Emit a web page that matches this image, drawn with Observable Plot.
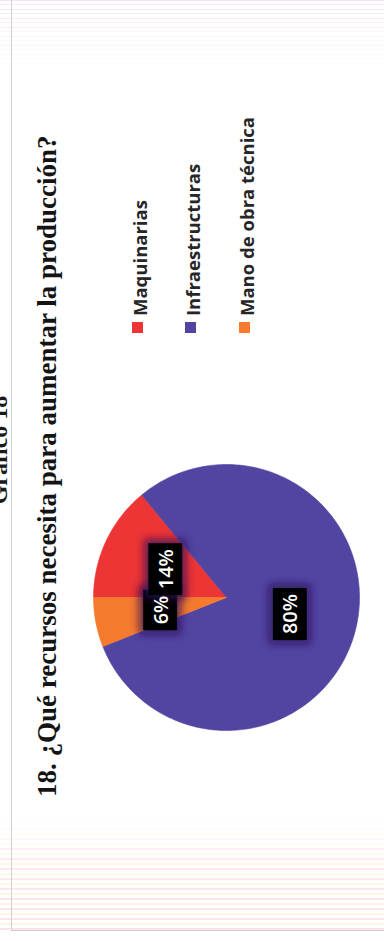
<!DOCTYPE html>
<html>
<head>
<meta charset="utf-8">
<script src="https://cdn.jsdelivr.net/npm/d3@7"></script>
<script src="https://cdn.jsdelivr.net/npm/@observablehq/plot@0.6"></script>
<style>
  html, body { margin: 0; padding: 0; background: #fff; width: 384px; height: 941px; overflow: hidden; }
  #page { position: absolute; left: 0; top: 0; width: 384px; height: 941px; overflow: hidden; background: #fff; }
  #bandTop { position: absolute; left: 0; top: 0; width: 384px; height: 70px;
    background: repeating-linear-gradient(to bottom, rgba(225,185,230,.4) 0 1px, rgba(255,255,255,0) 1px 4px, rgba(240,195,215,.3) 4px 5px, rgba(255,255,255,0) 5px 9px);
    -webkit-mask-image: linear-gradient(to bottom, #000 0%, rgba(0,0,0,.5) 50%, transparent 100%);
    mask-image: linear-gradient(to bottom, #000 0%, rgba(0,0,0,.5) 50%, transparent 100%); }
  #bandBot { position: absolute; left: 0; top: 818px; width: 384px; height: 112px;
    background: repeating-linear-gradient(to bottom, rgba(245,190,205,.45) 0 2px, rgba(255,255,255,0) 2px 5px, rgba(250,232,185,.45) 5px 7px, rgba(255,255,255,0) 7px 10px);
    -webkit-mask-image: linear-gradient(to bottom, transparent 0%, rgba(0,0,0,.7) 40%, #000 100%);
    mask-image: linear-gradient(to bottom, transparent 0%, rgba(0,0,0,.7) 40%, #000 100%); }
  #edge { position: absolute; left: 11px; top: 0; width: 380px; height: 930px;
    border-left: 1px solid #d2d2d2; border-bottom: 1px solid #cfcfcf; }
  #rot { position: absolute; left: 0; top: 0; width: 941px; height: 384px;
    transform-origin: 0 0; transform: translate(0px, 941px) rotate(-90deg); }
  #sup { position: absolute; left: 431px; width: 120px; top: -13px; text-align: center;
    font-family: "Liberation Serif", serif; font-weight: bold; font-size: 24px; line-height: 24px; color: #1a1a1a; white-space: nowrap; }
  #title { position: absolute; left: 144px; top: 34.4px;
    font-family: "Liberation Serif", serif; font-weight: bold; font-size: 27px; line-height: 27px; color: #141414; white-space: nowrap; }
  #chart { position: absolute; left: 0; top: 0; }
  #legend { position: absolute; left: 608px; top: 110.8px; width: 320px; }
  #legend .leg-swatches { font-family: "Open Sans", sans-serif !important; font-size: 18.5px !important; color: #262626; margin: 0 !important; columns: auto !important; }
  #legend, #legend * { font-weight: 700 !important; }
  #legend .leg-swatch { height: 53.33px; padding: 0 !important; margin: 0 !important; display: flex; align-items: center; }
  #legend .leg-swatch > svg { margin-right: 6px !important; }
  #legend .leg-swatch-label { position: relative; top: 2px; overflow: visible !important; }
</style>
</head>
<body>
<div id="page">
  <div id="bandTop"></div>
  <div id="bandBot"></div>
  <div id="edge"></div>
  <div id="rot">
    <div id="sup">Gráfico 18</div>
    <div id="title">18. ¿Qué recursos necesita para aumentar la producción?</div>
    <div id="chart"></div>
    <div id="legend"></div>
  </div>
</div>
<script>
// ---- data ----
const categories = ["Maquinarias", "Infraestructuras", "Mano de obra técnica"];
const values = [14, 80, 6];
const labels = ["14%", "80%", "6%"];
const colors = ["#ee3535", "#5245a2", "#f67a2e"];

// ---- pie geometry from data (start at 12 o'clock, clockwise) ----
const total = d3.sum(values);
const piePts = [];
const labelData = [];
let acc = 0;
categories.forEach((cat, i) => {
  const t0 = acc / total, t1 = (acc + values[i]) / total;
  acc += values[i];
  const n = Math.max(4, Math.ceil((t1 - t0) * 360));
  piePts.push({cat, x: 0, y: 0});
  for (let k = 0; k <= n; k++) {
    const a = 2 * Math.PI * (t0 + (t1 - t0) * k / n);
    piePts.push({cat, x: Math.sin(a), y: Math.cos(a)});
  }
  piePts.push({cat, x: 0, y: 0});
  const am = 2 * Math.PI * (t0 + t1) / 2;
  labelData.push({cat, label: labels[i], x: 0.5 * Math.sin(am), y: 0.5 * Math.cos(am)});
});

const svg = Plot.plot({
  width: 941,
  height: 384,
  margin: 0,
  x: {domain: [-1, 1], range: [210, 476], axis: null},
  y: {domain: [-1, 1], range: [359, 93], axis: null},
  color: {domain: categories, range: colors},
  style: {background: "transparent", overflow: "visible"},
  marks: [
    Plot.line(piePts, {x: "x", y: "y", z: "cat", fill: "cat", stroke: "cat", strokeWidth: 0.6, curve: "linear"}),
    Plot.text(labelData, {x: "x", y: "y", text: "label", fill: "white", fontSize: 20, fontWeight: 600, fontFamily: "Open Sans"})
  ]
});
document.getElementById("chart").appendChild(svg);

// glow filter + black label boxes behind the data labels
const NS = "http://www.w3.org/2000/svg";
const defs = document.createElementNS(NS, "defs");
defs.innerHTML = `<filter id="glow" x="-60%" y="-60%" width="220%" height="220%">
  <feMorphology in="SourceAlpha" operator="dilate" radius="4" result="d"/>
  <feGaussianBlur in="d" stdDeviation="4" result="b"/>
  <feFlood flood-color="#2a0f55" flood-opacity="0.75"/>
  <feComposite in2="b" operator="in" result="s"/>
  <feMerge><feMergeNode in="s"/><feMergeNode in="SourceGraphic"/></feMerge>
</filter>`;
svg.insertBefore(defs, svg.firstChild);
const texts = Array.from(svg.querySelectorAll("text"));
const rects = texts.map(t => {
  const b = t.getBBox();
  const w = b.width + 12, h = 34;
  const r = document.createElementNS(NS, "rect");
  r.setAttribute("x", b.x + b.width / 2 - w / 2);
  r.setAttribute("y", b.y + b.height / 2 - h / 2);
  r.setAttribute("width", w);
  r.setAttribute("height", h);
  r.setAttribute("fill", "#050505");
  r.setAttribute("filter", "url(#glow)");
  if (t.getAttribute("transform")) r.setAttribute("transform", t.getAttribute("transform"));
  return r;
});
if (texts.length) {
  const parent = texts[0].parentNode;
  rects.forEach(r => parent.insertBefore(r, parent.firstChild));
}

// legend (library swatches)
const leg = Plot.legend({
  color: {domain: categories, range: colors},
  legend: "swatches",
  columns: 1,
  swatchSize: 11,
  className: "leg"
});
document.getElementById("legend").appendChild(leg);
</script>
</body>
</html>
